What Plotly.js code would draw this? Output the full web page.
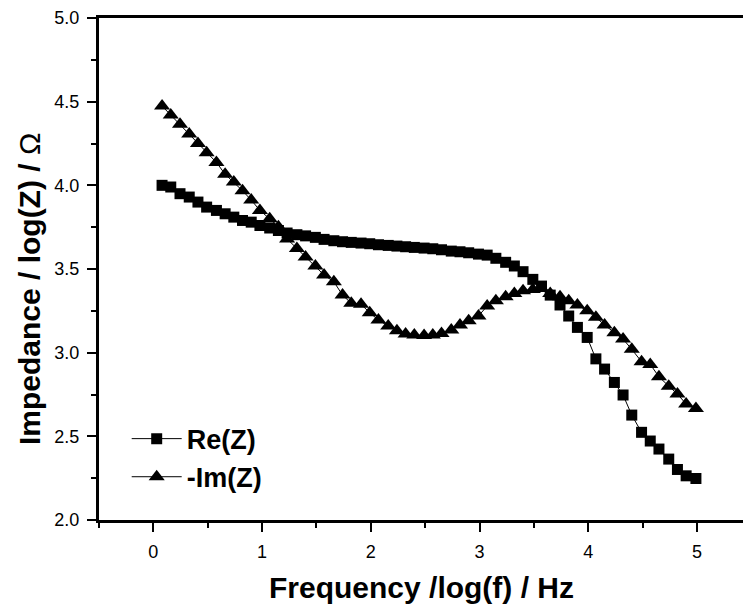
<!DOCTYPE html>
<html>
<head>
<meta charset="utf-8">
<script src="https://cdn.plot.ly/plotly-3.0.1.min.js"></script>
<style>
html,body{margin:0;padding:0;background:#fff;}
#chart{width:743px;height:609px;}
</style>
</head>
<body>
<div id="chart"></div>
<script>
// log(f) / Hz
var logFreq = [0.08, 0.16, 0.245, 0.33, 0.41, 0.49, 0.58, 0.66, 0.74, 0.82, 0.90, 0.98,
  1.07, 1.15, 1.23, 1.32, 1.40, 1.49, 1.57, 1.66, 1.74, 1.82, 1.91, 1.99,
  2.07, 2.16, 2.24, 2.32, 2.40, 2.49, 2.57, 2.65, 2.74, 2.82, 2.90, 2.99,
  3.07, 3.15, 3.24, 3.32, 3.40, 3.49, 3.57, 3.65, 3.74, 3.82, 3.90, 3.99,
  4.07, 4.15, 4.24, 4.32, 4.40, 4.49, 4.57, 4.65, 4.74, 4.82, 4.90, 4.99];

// Re(Z)  (log)
var reZ = [4.00, 3.99, 3.95, 3.93, 3.90, 3.87, 3.85, 3.83, 3.81, 3.79, 3.78, 3.76,
  3.745, 3.73, 3.715, 3.705, 3.698, 3.689, 3.677, 3.669, 3.663, 3.659, 3.655, 3.651,
  3.645, 3.641, 3.637, 3.633, 3.629, 3.625, 3.621, 3.615, 3.607, 3.603, 3.597, 3.589,
  3.583, 3.564, 3.540, 3.518, 3.484, 3.438, 3.398, 3.344, 3.285, 3.219, 3.151, 3.091,
  2.963, 2.902, 2.822, 2.747, 2.627, 2.524, 2.472, 2.424, 2.364, 2.302, 2.264, 2.248];

// -Im(Z)  (log)
var imZ = [4.474, 4.42, 4.365, 4.307, 4.25, 4.195, 4.137, 4.066, 4.02, 3.968, 3.912, 3.85,
  3.80, 3.753, 3.68, 3.623, 3.571, 3.518, 3.464, 3.424, 3.344, 3.295, 3.289, 3.239,
  3.195, 3.159, 3.131, 3.111, 3.105, 3.103, 3.105, 3.115, 3.135, 3.165, 3.191, 3.219,
  3.279, 3.310, 3.334, 3.354, 3.370, 3.378, 3.384, 3.354, 3.334, 3.310, 3.285, 3.250,
  3.211, 3.165, 3.119, 3.081, 3.020, 2.946, 2.930, 2.856, 2.800, 2.753, 2.693, 2.667];

var seriesNames = ['Re(Z)', '-Im(Z)'];
var xTitle = '<b>Frequency /log(f) / Hz</b>';
var yTitle = '<b>Impedance / log(Z) / </b>\u03A9';

var FONT = 'Liberation Sans, Arial, Helvetica, sans-serif';

var traces = [
  {
    x: logFreq, y: reZ, name: seriesNames[0], type: 'scatter', mode: 'lines+markers',
    line: {color: '#000', width: 1},
    marker: {symbol: 'square', size: 11, color: '#000'},
    legendgroup: 'a'
  },
  {
    x: logFreq, y: imZ, name: seriesNames[1], type: 'scatter', mode: 'lines+markers',
    line: {color: '#000', width: 1},
    marker: {symbol: 'triangle-up', size: 14, color: '#000'},
    legendgroup: 'b'
  }
];

var layout = {
  width: 743, height: 609,
  margin: {l: 98.5, r: 0, t: 18, b: 89},
  paper_bgcolor: '#fff', plot_bgcolor: '#fff',
  font: {family: FONT, color: '#000', size: 18},
  showlegend: true,
  legend: {
    x: 0.043, y: 0.21, xanchor: 'left', yanchor: 'top',
    bgcolor: 'rgba(0,0,0,0)', borderwidth: 0,
    font: {family: FONT, size: 27, color: '#000', weight: 'bold'},
    itemwidth: 50, traceorder: 'grouped', tracegroupgap: 0
  },
  xaxis: {
    range: [-0.5, 5.423],
    showgrid: false, zeroline: false,
    showline: true, linecolor: '#000', linewidth: 3, mirror: true,
    ticks: 'outside', ticklen: 9, tickwidth: 2, tickcolor: '#000',
    dtick: 1, tick0: 0,
    minor: {dtick: 0.5, tick0: 0, ticks: 'outside', ticklen: 5, tickwidth: 2, tickcolor: '#000', showgrid: false},
    tickfont: {family: FONT, size: 18, color: '#000'},
    ticklabelstandoff: 4
  },
  yaxis: {
    range: [2, 5],
    showgrid: false, zeroline: false,
    showline: true, linecolor: '#000', linewidth: 3, mirror: false,
    ticks: 'outside', ticklen: 9, tickwidth: 2, tickcolor: '#000',
    dtick: 0.5, tick0: 0, tickformat: '.1f',
    minor: {dtick: 0.25, tick0: 0, ticks: 'outside', ticklen: 5, tickwidth: 2, tickcolor: '#000', showgrid: false},
    tickfont: {family: FONT, size: 18, color: '#000'},
    ticklabelstandoff: 4
  },
  annotations: [
    {
      text: xTitle, xref: 'paper', yref: 'paper', x: 0.5004, y: -0.135,
      xanchor: 'center', yanchor: 'middle', showarrow: false,
      font: {family: FONT, size: 30, color: '#000'}
    },
    {
      text: yTitle, xref: 'paper', yref: 'paper', x: 0, y: 0.459,
      xshift: -69.5, xanchor: 'center', yanchor: 'middle', showarrow: false, textangle: -90,
      font: {family: FONT, size: 30, color: '#000'}
    }
  ]
};

Plotly.newPlot('chart', traces, layout, {staticPlot: true, displayModeBar: false});
</script>
</body>
</html>
